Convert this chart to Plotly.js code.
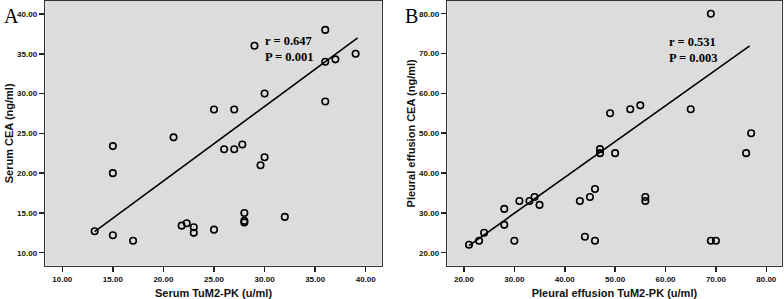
<!DOCTYPE html>
<html><head><meta charset="utf-8">
<script src="https://cdn.plot.ly/plotly-3.0.1.min.js"></script>
<style>html,body{margin:0;padding:0;background:#fff}#chart{width:784px;height:299px}</style>
</head><body><div id="chart"></div>
<script>
// Panel A: serum
const serumTuM2PK = [36, 29, 36, 37, 39, 30, 36, 25, 27, 21, 15, 26, 27, 27.8, 15, 29.6, 30, 13.2, 15, 17, 21.8, 22.3, 23, 23, 25, 28, 28, 28, 32];
const serumCEA    = [38, 36, 34, 34.3, 35, 30, 29, 28, 28, 24.5, 23.4, 23, 23, 23.6, 20, 21, 22, 12.7, 12.2, 11.5, 13.4, 13.7, 13.2, 12.5, 12.9, 15, 14, 13.8, 14.5];
const serumFitX = [13.2, 39.2];
const serumFitY = [12.65, 37.0];
// Panel B: pleural effusion
const pleuralTuM2PK = [69, 49, 53, 55, 65, 77, 47, 47, 50, 76, 21, 23, 24, 28, 28, 30, 31, 33, 34, 35, 43, 44, 45, 46, 46, 56, 56, 69, 70];
const pleuralCEA    = [80, 55, 56, 57, 56, 50, 46, 45, 45, 45, 22, 23, 25, 31, 27, 23, 33, 33, 34, 32, 33, 24, 34, 36, 23, 34, 33, 23, 23];
const pleuralFitX = [21, 76.7];
const pleuralFitY = [21.8, 71.9];

const tickValsA_x = [10, 15, 20, 25, 30, 35, 40];
const tickValsA_y = [10, 15, 20, 25, 30, 35, 40];
const tickValsB_x = [20, 30, 40, 50, 60, 70, 80];
const tickValsB_y = [20, 30, 40, 50, 60, 70, 80];
const fmt = v => v.toFixed(2);

const marker = {symbol: 'circle-open', size: 6.5, color: '#000', line: {width: 1.6, color: '#000'}};
const traces = [
  {x: serumFitX, y: serumFitY, mode: 'lines', line: {color: '#000', width: 1.6}, xaxis: 'x', yaxis: 'y', hoverinfo: 'skip'},
  {x: serumTuM2PK, y: serumCEA, mode: 'markers', marker: marker, xaxis: 'x', yaxis: 'y'},
  {x: pleuralFitX, y: pleuralFitY, mode: 'lines', line: {color: '#000', width: 1.6}, xaxis: 'x2', yaxis: 'y2', hoverinfo: 'skip'},
  {x: pleuralTuM2PK, y: pleuralCEA, mode: 'markers', marker: marker, xaxis: 'x2', yaxis: 'y2'}
];

const tickFont = {family: 'Liberation Sans, Arial, sans-serif', size: 8, color: '#111', weight: 'bold'};
const titleFont = {family: 'Liberation Sans, Arial, sans-serif', size: 11, color: '#111', weight: 'bold'};
const axBase = {showgrid: false, zeroline: false, showline: true, mirror: true, linecolor: '#333', linewidth: 1.6,
  ticks: 'outside', ticklen: 5, tickwidth: 1.5, tickcolor: '#222', tickfont: tickFont};
const yDom = [1 - 265.7/299, 1 - 1/299];

const layout = {
  width: 784, height: 299, margin: {l: 0, r: 0, t: 0, b: 0},
  paper_bgcolor: '#fff', plot_bgcolor: '#dcdcdc', showlegend: false,
  xaxis: Object.assign({}, axBase, {domain: [45.3/784, 381.7/784], range: [8.32, 41.58], tickvals: tickValsA_x, ticktext: tickValsA_x.map(fmt),
    title: {text: 'Serum TuM2-PK (u/ml)', font: titleFont, standoff: 7}, anchor: 'y'}),
  yaxis: Object.assign({}, axBase, {domain: yDom, range: [8.37, 41.63], tickvals: tickValsA_y, ticktext: tickValsA_y.map(fmt),
    title: {text: 'Serum CEA (ng/ml)', font: titleFont, standoff: 1}, anchor: 'x'}),
  xaxis2: Object.assign({}, axBase, {domain: [447.3/784, 781.5/784], range: [16.69, 83.02], tickvals: tickValsB_x, ticktext: tickValsB_x.map(fmt),
    title: {text: 'Pleural effusion TuM2-PK (u/ml)', font: titleFont, standoff: 7}, anchor: 'y2'}),
  yaxis2: Object.assign({}, axBase, {domain: yDom, range: [16.74, 83.19], tickvals: tickValsB_y, ticktext: tickValsB_y.map(fmt),
    title: {text: 'Pleural effusion CEA (ng/ml)', font: titleFont, standoff: 1}, anchor: 'x2'}),
  annotations: [
    {xref: 'paper', yref: 'paper', x: 2/784, y: 1 - 16/299, xanchor: 'left', yanchor: 'middle', showarrow: false, text: 'A',
      font: {family: 'Liberation Serif, Times New Roman, serif', size: 20, color: '#000'}},
    {xref: 'paper', yref: 'paper', x: 403/784, y: 1 - 16/299, xanchor: 'left', yanchor: 'middle', showarrow: false, text: 'B',
      font: {family: 'Liberation Serif, Times New Roman, serif', size: 20, color: '#000'}},
    {xref: 'paper', yref: 'paper', x: 263/784, y: 1 - 48.5/299, xanchor: 'left', yanchor: 'middle', showarrow: false, align: 'left',
      text: 'r = 0.647<br>P = 0.001', font: {family: 'Liberation Serif, Times New Roman, serif', size: 12.5, color: '#000', weight: 'bold'}},
    {xref: 'paper', yref: 'paper', x: 667/784, y: 1 - 49.5/299, xanchor: 'left', yanchor: 'middle', showarrow: false, align: 'left',
      text: 'r = 0.531<br>P = 0.003', font: {family: 'Liberation Serif, Times New Roman, serif', size: 12.5, color: '#000', weight: 'bold'}}
  ]
};
Plotly.newPlot('chart', traces, layout, {displayModeBar: false, staticPlot: true});
</script></body></html>
